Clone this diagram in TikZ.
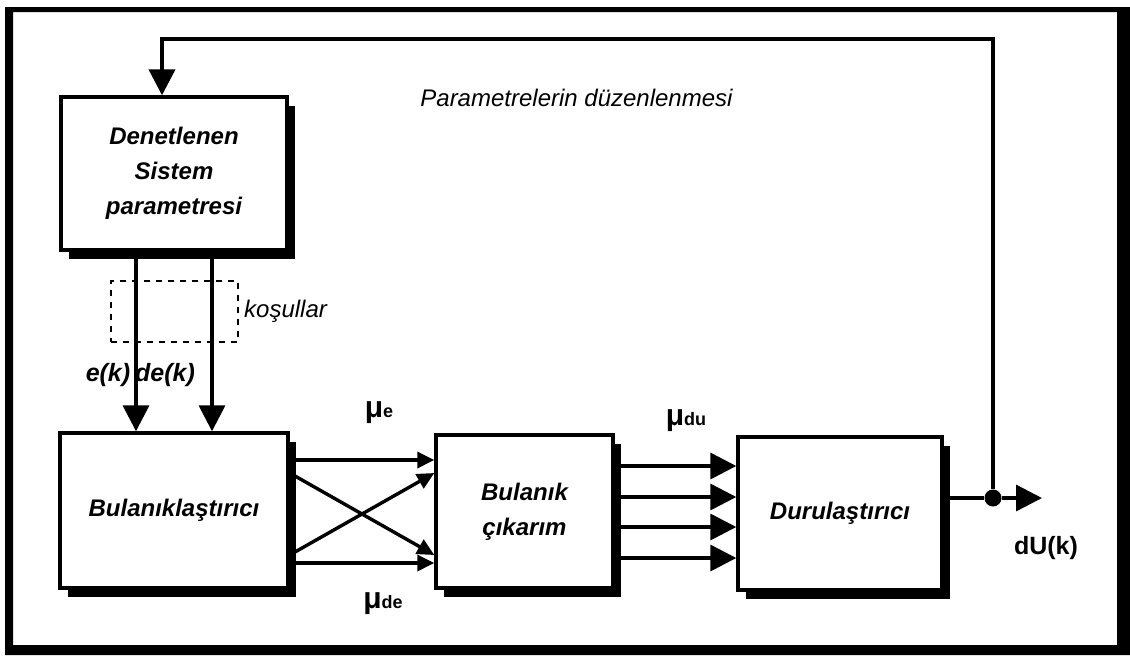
\documentclass[tikz,border=0pt]{standalone}
\usepackage{fontspec}
\setmainfont{Liberation Sans}
\usetikzlibrary{arrows.meta,shadows,calc}
\begin{document}
\begin{tikzpicture}[x=0.5pt,y=-0.5pt,
  box/.style={draw, line width=1.7pt, fill=white, inner sep=0pt, align=center,
    font=\fontsize{12}{17.5}\selectfont\bfseries\itshape,
    drop shadow={opacity=1, fill=black, shadow xshift=4pt, shadow yshift=-4.5pt}},
  conn/.style={line width=1.7pt},
  bigarr/.style={conn, -{Triangle[length=13pt,width=13pt]}},
  smallarr/.style={conn, -{Triangle[length=8.5pt,width=8pt]}},
  lbl/.style={font=\fontsize{12.5}{12.5}\selectfont\bfseries\itshape, inner sep=0pt},
  mulbl/.style={inner sep=0pt, font=\bfseries},
  plain/.style={font=\fontsize{12}{12}\selectfont\itshape, inner sep=0pt}]
\useasboundingbox (0,0) rectangle (1130,655);
% outer frame
\fill[black, even odd rule] (5,7) rectangle (1130,655) (13,12) rectangle (1117,645);

% blocks
\node[box, minimum width=113pt, minimum height=76.5pt] (D) at (174,173.5) {Denetlenen\\Sistem\\parametresi};
\node[box, minimum width=114pt, minimum height=77.5pt] (F) at (174,510.5) {Bulanıklaştırıcı};
\node[box, minimum width=88.5pt, minimum height=76.5pt] (I) at (524.5,511.5) {Bulanık\\çıkarım};
\node[box, minimum width=102pt, minimum height=76.5pt] (R) at (840,513.5) {Durulaştırıcı};

% conditions box
\node[draw, dashed, line width=0.8pt, minimum width=63.5pt, minimum height=30.5pt, inner sep=0pt] (C) at (174.5,311.5) {};
\node[plain, anchor=west] (Ct) at ($(C.east)+(5,0)$) {koşullar};

% D -> F
\coordinate (xe) at (136,0);
\coordinate (xde) at (212,0);
\draw[bigarr] (D.south -| xe) -- (F.north -| xe);
\draw[bigarr] (D.south -| xde) -- (F.north -| xde);
\node[lbl] (le) at (108,375) {e(k)};
\node[lbl] (lde) at (165,375) {de(k)};

% F -> I
\coordinate (y1) at (0,460);
\coordinate (y2) at (0,473);
\coordinate (y3) at (0,555);
\coordinate (y4) at (0,563);
\draw[smallarr] (F.east |- y1) -- (I.west |- y1);
\draw[smallarr] (F.east |- y2) -- (I.west |- y3);
\draw[smallarr] (F.east |- y3) -- (I.west |- y2);
\draw[smallarr] (F.east |- y4) -- (I.west |- y4);
\node[mulbl] (m1) at (379,413) {{\fontsize{15}{15}\selectfont μ}{\fontsize{9}{9}\selectfont e}};
\node[mulbl] (m2) at (383,604) {{\fontsize{15}{15}\selectfont μ}{\fontsize{9}{9}\selectfont de}};

% I -> R
\foreach \yy in {466,497,527,558}{
  \coordinate (q\yy) at (0,\yy);
  \draw[bigarr] (I.east |- q\yy) -- (R.west |- q\yy);
}
\node[mulbl] (m3) at (686,421) {{\fontsize{15}{15}\selectfont μ}{\fontsize{9}{9}\selectfont du}};

% output and feedback
\node[circle, fill=black, inner sep=0pt, minimum size=8.5pt] (J) at (993,498) {};
\coordinate (out) at (1042,498);
\coordinate (fb) at (162,39);
\draw[conn] (R.east |- J) -- (J);
\draw[bigarr] (J) -- (out);
\draw[bigarr, line width=2pt] (J) |- (fb) -- (D.north -| fb);
\node[font=\fontsize{12.5}{12.5}\selectfont\bfseries, inner sep=0pt] (dU) at (1046,548) {dU(k)};

\node[plain, anchor=west] (title) at (420,98) {Parametrelerin düzenlenmesi};
\end{tikzpicture}
\end{document}
